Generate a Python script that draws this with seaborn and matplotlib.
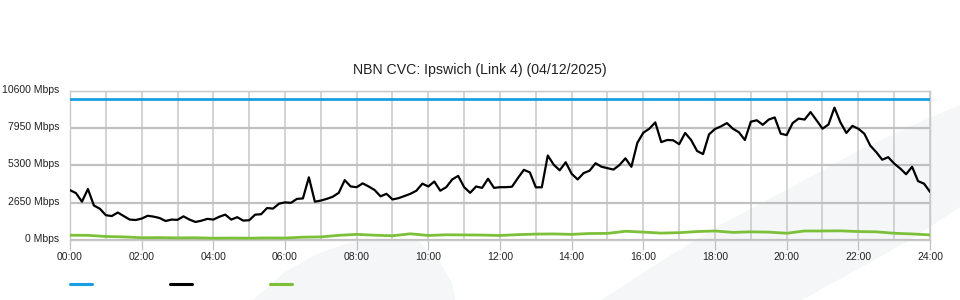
import numpy as np
import pandas as pd
import matplotlib
matplotlib.use("Agg")
import matplotlib.pyplot as plt
import seaborn as sns
from matplotlib.patches import Polygon
from matplotlib.lines import Line2D
from matplotlib.ticker import MultipleLocator, FixedLocator
from matplotlib.transforms import ScaledTranslation

# ---------------- data ----------------
title = "NBN CVC: Ipswich (Link 4) (04/12/2025)"
y_ticks = [0, 2650, 5300, 7950, 10600]
y_tick_labels = ["0 Mbps", "2650 Mbps", "5300 Mbps", "7950 Mbps", "10600 Mbps"]
x_ticks = [0, 2, 4, 6, 8, 10, 12, 14, 16, 18, 20, 22, 24]
x_tick_labels = ["00:00", "02:00", "04:00", "06:00", "08:00", "10:00", "12:00",
                 "14:00", "16:00", "18:00", "20:00", "22:00", "24:00"]

# capacity (blue)
capacity_hours = [0, 24]
capacity_mbps = [10000, 10000]

# traffic (black), 10-minute samples 00:00 .. 24:00
traffic_hours = [i / 6 for i in range(145)]
traffic_mbps = [
    3540, 3330, 2720, 3620, 2450, 2220, 1760, 1700, 1950, 1700, 1450, 1420,
    1520, 1720, 1660, 1560, 1350, 1450, 1430, 1680, 1450, 1280, 1370, 1500,
    1450,
    1650, 1800, 1450, 1620, 1380, 1400, 1800, 1830, 2270, 2230, 2580, 2670,
    2640, 2920, 2950, 4450, 2720, 2800, 2920, 3070, 3350, 4250, 3800, 3750,
    4020, 3800, 3550, 3100, 3280, 2880, 2970, 3120, 3280, 3500, 4000, 3800,
    4150, 3500, 3750, 4300, 4550, 3750, 3350, 3800, 3700, 4350, 3700, 3750,
    3750, 3780, 4400, 4980, 4800, 3740, 3740, 6000, 5340, 4950, 5520, 4700,
    4300, 4750, 4920, 5450, 5200, 5100, 5000, 5320, 5800, 5200, 6900, 7620,
    7900, 8350, 6950, 7100, 7080, 6800, 7600, 7100, 6320, 6100, 7500, 7880,
    8070, 8300, 7900, 7650, 7100, 8400, 8500, 8180, 8550, 8700, 7550, 7450,
    8300, 8620, 8550, 9080, 8500, 7900, 8200, 9400, 8350, 7600, 8100, 7900,
    7550, 6700, 6240, 5700, 5880, 5430, 5080, 4670, 5200, 4180, 4000, 3420,
]

# secondary traffic (green), 30-minute samples
green_hours = [i / 2 for i in range(49)]
green_mbps = [
    340, 330, 250, 220, 160, 170, 150, 160, 130, 140, 130, 150,
    140, 200, 220, 330, 400, 340, 300, 440, 320, 370, 360, 350,
    320, 380, 420, 430, 400, 460, 470, 620, 560, 490, 520, 600,
    640, 540, 580, 560, 480, 640, 640, 650, 600, 580, 480, 430,
    360,
]

colors = {"capacity": "#1a9ee2", "traffic": "#000000", "green": "#7cc03a"}

# ---------------- figure ----------------
sns.set_theme(style="white")
plt.rcParams["font.family"] = ["Liberation Sans", "DejaVu Sans"]

fig = plt.figure(figsize=(9.6, 3.0), dpi=100)
fig.patch.set_facecolor("white")

# faint watermark shapes (pixel coords, y from top)
def px(pts):
    return [(x / 960, 1 - y / 300) for x, y in pts]

wm_color = "#f5f6f8"
band = px([(601, 300), (660, 262), (720, 225), (790, 188), (860, 150),
           (920, 122), (960, 105), (960, 207), (910, 240), (802, 300)])
blob = px([(253, 300), (285, 272), (315, 255), (345, 244), (380, 238),
           (417, 240), (440, 262), (452, 283), (455, 300)])
for shp in (band, blob):
    fig.patches.append(Polygon(shp, closed=True, transform=fig.transFigure,
                               facecolor=wm_color, edgecolor="none", zorder=0))

ax = fig.add_axes([70 / 960, 60 / 300, 860 / 960, 149.3 / 300])
ax.set_facecolor("none")
ax.set_zorder(1)

df_cap = pd.DataFrame({"hour": capacity_hours, "mbps": capacity_mbps})
df_tr = pd.DataFrame({"hour": traffic_hours, "mbps": traffic_mbps})
df_gr = pd.DataFrame({"hour": green_hours, "mbps": green_mbps})

sns.lineplot(data=df_cap, x="hour", y="mbps", ax=ax, color=colors["capacity"],
             linewidth=2.0, zorder=3)
sns.lineplot(data=df_gr, x="hour", y="mbps", ax=ax, color=colors["green"],
             linewidth=2.0, zorder=3)
sns.lineplot(data=df_tr, x="hour", y="mbps", ax=ax, color=colors["traffic"],
             linewidth=1.6, zorder=4)

ax.set_xlim(0, 24)
ax.set_ylim(0, 10600)
ax.set_xlabel("")
ax.set_ylabel("")

ax.xaxis.set_major_locator(FixedLocator(x_ticks))
ax.set_xticklabels(x_tick_labels)
ax.xaxis.set_minor_locator(MultipleLocator(1))
ax.yaxis.set_major_locator(FixedLocator(y_ticks))
ax.set_yticklabels(y_tick_labels)

ax.grid(False)
ax.grid(axis="x", which="both", color="#c8c8c8", linewidth=1.1, zorder=1)
ax.grid(axis="y", which="major", color="#c0c0c0", linewidth=1.6, zorder=1)
ax.set_axisbelow(True)

for s in ax.spines.values():
    s.set_color("#c8c8c8")
    s.set_linewidth(1.0)

ax.tick_params(axis="x", which="major", length=7, width=0.9, color="#c0c0c0",
               labelsize=7.5, labelcolor="#222222", pad=2, bottom=True)
ax.tick_params(axis="x", which="minor", length=0)
ax.tick_params(axis="y", which="both", length=0, labelsize=7.5,
               labelcolor="#222222", pad=7.5)

off = ScaledTranslation(0, 2 / 100, fig.dpi_scale_trans)
for lab in ax.get_yticklabels():
    lab.set_transform(lab.get_transform() + off)

fig.text(0.5, 1 - 70 / 300, title, ha="center", va="center", fontsize=10.2,
         color="#222222")

handles = [Line2D([], [], color=colors["capacity"], linewidth=2.2),
           Line2D([], [], color=colors["traffic"], linewidth=2.2),
           Line2D([], [], color=colors["green"], linewidth=2.2)]
fig.legend(handles, ["", "", ""], ncol=3, loc="center left",
           bbox_to_anchor=(70 / 960, 1 - 285 / 300), frameon=False,
           fontsize=10, handlelength=22 / 13.89, handletextpad=0,
           columnspacing=78 / 13.89, borderpad=0, borderaxespad=0)

fig.savefig("out.png", dpi=100)
